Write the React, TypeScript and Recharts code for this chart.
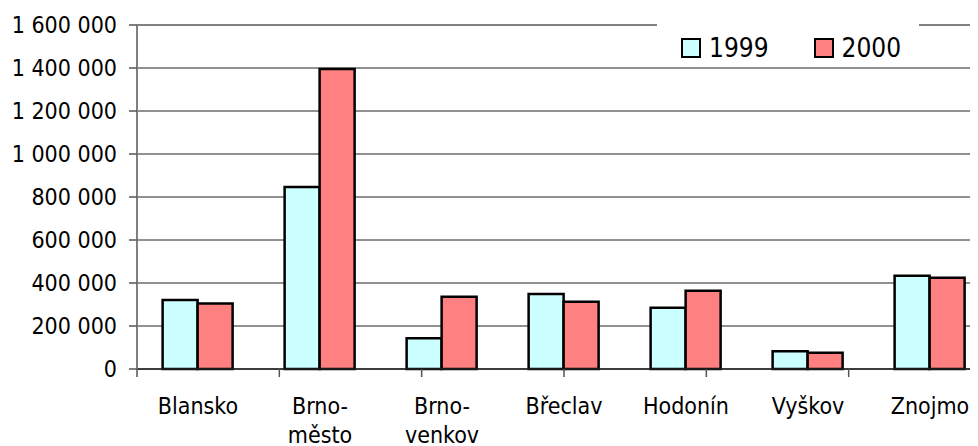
import React from "react";
import {
  Bar,
  BarChart,
  CartesianGrid,
  Legend,
  ReferenceLine,
  XAxis,
  YAxis,
} from "recharts";

const districts = ["Blansko", "Brno-město", "Brno-venkov", "Břeclav", "Hodonín", "Vyškov", "Znojmo"];
const values1999 = [321000, 846000, 143000, 349000, 285000, 82000, 434000];
const values2000 = [305000, 1395000, 336000, 313000, 364000, 76000, 425000];
const yTicks = [0, 200000, 400000, 600000, 800000, 1000000, 1200000, 1400000, 1600000];
const edgeTicks = [0, 1, 2, 3, 4, 5, 6, 7];

const data = districts.map((name, i) => ({
  name,
  y1999: values1999[i],
  y2000: values2000[i],
}));

const FONT = '"DejaVu Sans Condensed", "DejaVu Sans", sans-serif';

const fmt = (v: number) => String(v).replace(/\B(?=(\d{3})+(?!\d))/g, " ");

function DistrictTick(props: any) {
  const { x, y, payload } = props;
  const label: string = payload.value;
  const cut = label.indexOf("-");
  const lines = cut >= 0 ? [label.slice(0, cut + 1), label.slice(cut + 1)] : [label];
  return (
    <text x={x} y={y + 37} textAnchor="middle" fontFamily={FONT} fontSize={23} fill="#000">
      {lines.map((l, i) => (
        <tspan key={i} x={x} dy={i === 0 ? 0 : 29}>
          {l}
        </tspan>
      ))}
    </text>
  );
}

// boundary ticks only need their tick lines, no labels
const NoLabel = () => <g />;

function LegendBox() {
  const items = [
    { label: "1999", color: "#CCFFFF" },
    { label: "2000", color: "#FF8080" },
  ];
  return (
    <div
      style={{
        display: "flex",
        alignItems: "center",
        height: "100%",
        paddingLeft: 24,
        paddingTop: 6,
        boxSizing: "border-box",
        fontFamily: FONT,
        fontSize: 26,
        lineHeight: 1,
      }}
    >
      {items.map((it, i) => (
        <div key={it.label} style={{ display: "flex", alignItems: "center", marginRight: i === 0 ? 45 : 0 }}>
          <span
            style={{
              width: 16,
              height: 16,
              background: it.color,
              border: "2px solid #000",
              marginRight: 8,
            }}
          />
          <span>{it.label}</span>
        </div>
      ))}
    </div>
  );
}

export default function App() {
  return (
    <div style={{ width: 970, height: 438, overflow: "hidden" }}>
      <BarChart
        width={1000}
        height={438}
        data={data}
        margin={{ top: 17, right: 17, bottom: 9, left: 0 }}
        barCategoryGap="21%"
        barGap={0}
      >
        <CartesianGrid vertical={false} stroke="#222" strokeWidth={1} />
        <XAxis
          xAxisId="b"
          dataKey="name"
          axisLine={false}
          tickLine={false}
          tickSize={0}
          tickMargin={0}
          height={60}
          interval={0}
          tick={<DistrictTick />}
        />
        <XAxis
          xAxisId="a"
          type="number"
          domain={[0, 7]}
          ticks={edgeTicks}
          tick={NoLabel}
          tickSize={8}
          height={8}
          interval={0}
          axisLine={{ stroke: "#222", strokeWidth: 1.5 }}
          tickLine={{ stroke: "#555", strokeWidth: 1.5 }}
          allowDataOverflow
        />
        <YAxis
          width={129}
          domain={[0, 1600000]}
          ticks={yTicks}
          tickFormatter={fmt}
          tickSize={8}
          tickMargin={12}
          axisLine={{ stroke: "#808080", strokeWidth: 2 }}
          tickLine={{ stroke: "#555", strokeWidth: 1.5 }}
          tick={{ fontFamily: FONT, fontSize: 23, fill: "#000" }}
          interval={0}
        />
        <ReferenceLine xAxisId="b" y={1600000} stroke="#808080" strokeWidth={2} />
        <Legend
          layout="horizontal"
          align="center"
          verticalAlign="middle"
          content={<LegendBox />}
          wrapperStyle={{ left: 649, top: 15, width: 262, height: 44, background: "#fff" }}
        />
        <Bar
          xAxisId="b"
          dataKey="y1999"
          name="1999"
          fill="#CCFFFF"
          stroke="#000"
          strokeWidth={2.5}
          isAnimationActive={false}
        />
        <Bar
          xAxisId="b"
          dataKey="y2000"
          name="2000"
          fill="#FF8080"
          stroke="#000"
          strokeWidth={2.5}
          isAnimationActive={false}
        />
      </BarChart>
    </div>
  );
}
